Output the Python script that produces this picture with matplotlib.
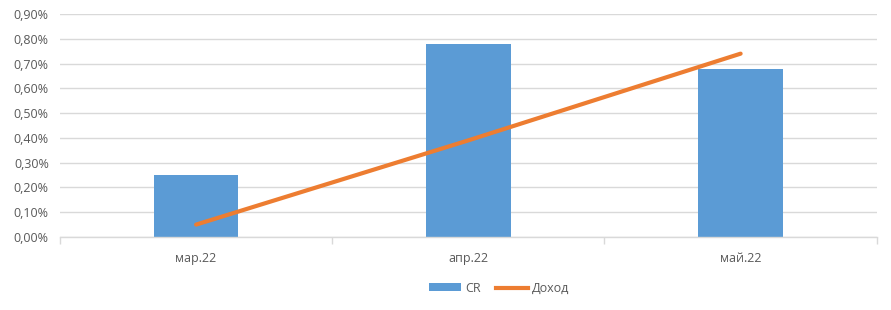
import matplotlib.pyplot as plt
from matplotlib.ticker import FuncFormatter, FixedLocator
from matplotlib.patches import Patch
from matplotlib.lines import Line2D

plt.rcParams['font.family'] = ['Open Sans', 'DejaVu Sans']

# data (values in percent)
months = ['мар.22', 'апр.22', 'май.22']
cr = [0.25, 0.78, 0.68]
income = [0.05, 0.39, 0.74]

BAR_C = '#5B9BD5'
LINE_C = '#ED7D31'
TXT = '#595959'
GRID = '#D9D9D9'

fig = plt.figure(figsize=(8.91, 3.10), dpi=100)
ax = fig.add_axes([0.0673, 0.2355, 0.9167, 0.7193])

x = list(range(len(months)))
ax.bar(x, cr, width=0.31, color=BAR_C, zorder=2)
ax.plot(x, income, color=LINE_C, linewidth=3, solid_capstyle='round', zorder=3)

ax.set_xlim(-0.5, len(months) - 0.5)
ax.set_ylim(0, 0.9)
ax.set_yticks([i / 10 for i in range(10)])
ax.yaxis.set_major_formatter(FuncFormatter(lambda v, p: f'{v:.2f}%'.replace('.', ',')))
ax.grid(axis='y', color=GRID, linewidth=1, zorder=0)
ax.set_axisbelow(True)

ax.set_xticks(x)
ax.set_xticklabels(months)
ax.xaxis.set_minor_locator(FixedLocator([-0.5, 0.5, 1.5, 2.5]))
ax.tick_params(axis='x', which='major', length=0, pad=11, labelsize=9, labelcolor=TXT)
ax.tick_params(axis='x', which='minor', length=5, color=GRID, width=1)
ax.tick_params(axis='y', length=0, pad=8, labelsize=9, labelcolor=TXT)

for s in ['top', 'right', 'left']:
    ax.spines[s].set_visible(False)
ax.spines['bottom'].set_color(GRID)
ax.spines['bottom'].set_linewidth(1)

handles = [Patch(facecolor=BAR_C, label='CR'),
           Line2D([0], [0], color=LINE_C, linewidth=3, label='Доход')]
fig.legend(handles=handles, loc='center', bbox_to_anchor=(0.56, 0.07), ncol=2,
           frameon=False, fontsize=9, labelcolor=TXT, handlelength=2.6,
           handleheight=0.6, columnspacing=1.2, handletextpad=0.3)

fig.savefig('out.png', dpi=100)
